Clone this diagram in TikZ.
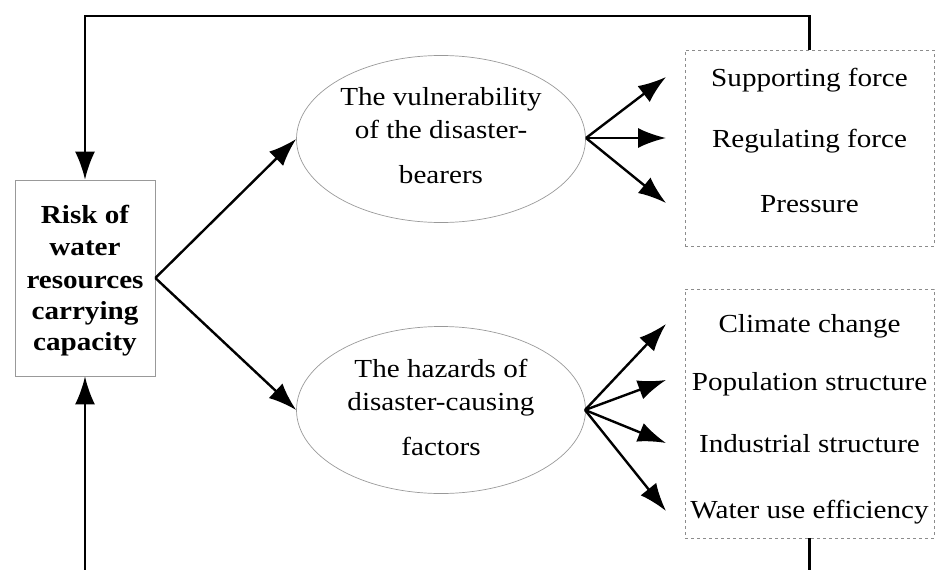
\documentclass[tikz,border=0pt]{standalone}
\usepackage{fontspec}
\setmainfont[FakeStretch=1.12]{Liberation Serif}
\usetikzlibrary{arrows.meta,shapes.geometric}
\tikzset{
  conn/.style={line width=2.4pt, black},
  arr/.style={conn, -{Latex[length=28pt,width=20pt]}},
  riskbox/.style={draw=gray!80, line width=0.7pt, minimum width=140pt, minimum height=196pt, align=center, inner sep=0pt},
  risktext/.style={anchor=base, font=\fontsize{26}{32}\selectfont\bfseries},
  ellbox/.style={ellipse, draw=gray!80, line width=0.7pt, minimum width=289pt, minimum height=167pt, inner sep=0pt},
  ellline/.style={anchor=base, font=\fontsize{26}{30}\selectfont},
  dashbox/.style={draw=gray!90, dashed, line width=0.7pt, minimum width=249pt, inner sep=0pt},
  item/.style={anchor=base, font=\fontsize{26}{30}\selectfont},
}
\begin{document}
\begin{tikzpicture}[x=1pt,y=-1pt]
\useasboundingbox (0,0) rectangle (937,570);
% main box
\node[riskbox] (risk) at (85,278) {};
\node[risktext] (r1) at (85,223) {Risk of};
\node[risktext] (r2) at (85,255) {water};
\node[risktext] (r3) at (85,288) {resources};
\node[risktext] (r4) at (85,319) {carrying};
\node[risktext] (r5) at (85,350) {capacity};
% ellipses
\node[ellbox] (e1) at (441,139) {};
\node[ellline] (e1a) at (441,105) {The vulnerability};
\node[ellline] (e1b) at (441,138) {of the disaster-};
\node[ellline] (e1c) at (441,183) {bearers};
\node[ellbox] (e2) at (441,410) {};
\node[ellline] (e2a) at (441,377) {The hazards of};
\node[ellline] (e2b) at (441,410) {disaster-causing};
\node[ellline] (e2c) at (441,455) {factors};
% dashed boxes
\node[dashbox, minimum height=196pt] (b1) at (809.5,148) {};
\node[item] (s1) at (809.5,86) {Supporting force};
\node[item] (s2) at (809.5,147) {Regulating force};
\node[item] (s3) at (809.5,212) {Pressure};
\node[dashbox, minimum height=249pt] (b2) at (809.5,413.5) {};
\node[item] (h1) at (809.5,332) {Climate change};
\node[item] (h2) at (809.5,390) {Population structure};
\node[item] (h3) at (809.5,452) {Industrial structure};
\node[item] (h4) at (809.5,518) {Water use efficiency};
% coordinates
\coordinate (tr) at (809.5,16);
\coordinate (tl) at (85,16);
\coordinate (bl) at (85,572);
\coordinate (br) at (809.5,572);
\coordinate (f1) at (586,138);
\coordinate (f2) at (585,410);
\coordinate (t1) at (666,77);
\coordinate (t2) at (666,138);
\coordinate (t3) at (666,203);
\coordinate (u1) at (666,324);
\coordinate (u2) at (666,380);
\coordinate (u3) at (666,443);
\coordinate (u4) at (666,511);
% connectors
\draw[arr] (b1.north) -- (tr) -- (tl) -- (risk.north);
\draw[arr] (bl) -- (risk.south);
\draw[conn] (b2.south) -- (br);
\draw[arr] (risk.east) -- (e1.west);
\draw[arr] (risk.east) -- (e2.west);
\draw[arr] (f1) -- (t1);
\draw[arr] (f1) -- (t2);
\draw[arr] (f1) -- (t3);
\draw[arr] (f2) -- (u1);
\draw[arr] (f2) -- (u2);
\draw[arr] (f2) -- (u3);
\draw[arr] (f2) -- (u4);
\end{tikzpicture}
\end{document}
